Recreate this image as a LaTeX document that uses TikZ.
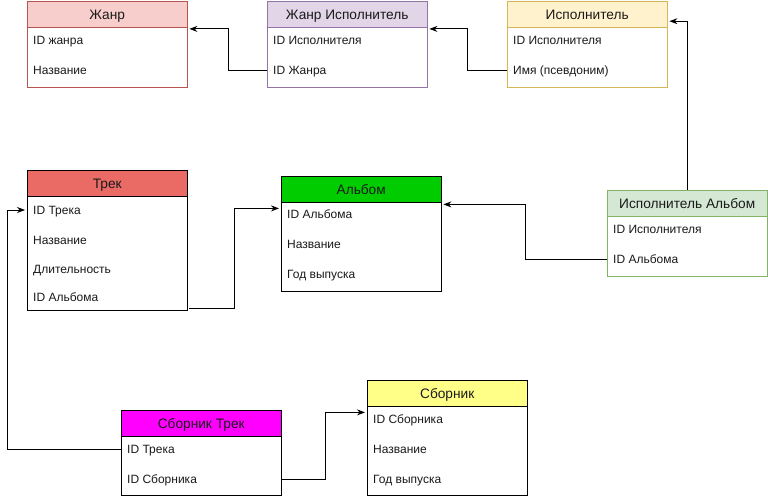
\documentclass[tikz,border=0pt]{standalone}
\usepackage{fontspec}
\setmainfont{Liberation Sans}
\usepackage{xcolor}
\usepackage{tikz}
\usetikzlibrary{arrows.meta, positioning, calc}
\definecolor{genrefill}{HTML}{F8CECC}
\definecolor{genreline}{HTML}{B85450}
\definecolor{linkfill}{HTML}{E1D5E7}
\definecolor{linkline}{HTML}{9673A6}
\definecolor{artistfill}{HTML}{FFF2CC}
\definecolor{artistline}{HTML}{D6B656}
\definecolor{artalbfill}{HTML}{D5E8D4}
\definecolor{artalbline}{HTML}{82B366}
\definecolor{trackfill}{HTML}{EA6B66}
\definecolor{albumfill}{HTML}{00CC00}
\definecolor{collfill}{HTML}{FFFF88}
\definecolor{colltrackfill}{HTML}{FF00FF}
\definecolor{textgray}{HTML}{1A1A1A}

\tikzset{
  head/.style={draw, minimum width=160pt, minimum height=26pt, anchor=north west,
    inner sep=0pt, text height=12pt, text depth=1pt,
    font=\fontsize{13.7}{15}\selectfont, text=textgray},
  body/.style={draw, fill=white, minimum width=160pt, anchor=north west, inner sep=0pt},
  field/.style={anchor=west, inner sep=0pt, text height=8.6pt, text depth=0pt,
    font=\fontsize{12}{14}\selectfont, text=textgray},
  link/.style={draw=black, line width=0.9pt, -{Stealth[length=8pt,width=6pt]}},
}

\begin{document}
\begin{tikzpicture}[x=1pt, y=-1pt]
    \useasboundingbox (0,0) rectangle (768,500);

    % Жанр
    \node[head, fill=genrefill, draw=genreline] (g-head) at (27,1) {Жанр};
    \node[body, draw=genreline, minimum height=60pt] (g-body) at (27,27) {};
    \node[field] (g-f1) at (33,40) {ID жанра};
    \node[field] (g-f2) at (33,70) {Название};

    % Жанр Исполнитель
    \node[head, fill=linkfill, draw=linkline] (gi-head) at (267,1) {Жанр Исполнитель};
    \node[body, draw=linkline, minimum height=60pt] (gi-body) at (267,27) {};
    \node[field] (gi-f1) at (273,40) {ID Исполнителя};
    \node[field] (gi-f2) at (273,70) {ID Жанра};

    % Исполнитель
    \node[head, fill=artistfill, draw=artistline] (i-head) at (507,1) {Исполнитель};
    \node[body, draw=artistline, minimum height=60pt] (i-body) at (507,27) {};
    \node[field] (i-f1) at (513,40) {ID Исполнителя};
    \node[field] (i-f2) at (513,70) {Имя (псевдоним)};

    % Трек
    \node[head, fill=trackfill] (t-head) at (27,170) {Трек};
    \node[body, minimum height=114pt] (t-body) at (27,196) {};
    \node[field] (t-f1) at (33,210) {ID Трека};
    \node[field] (t-f2) at (33,240) {Название};
    \node[field] (t-f3) at (33,269) {Длительность};
    \node[field] (t-f4) at (33,297) {ID Альбома};

    % Альбом
    \node[head, fill=albumfill] (a-head) at (281,176) {Альбом};
    \node[body, minimum height=89pt] (a-body) at (281,202) {};
    \node[field] (a-f1) at (287,214) {ID Альбома};
    \node[field] (a-f2) at (287,244) {Название};
    \node[field] (a-f3) at (287,274) {Год выпуска};

    % Исполнитель Альбом
    \node[head, fill=artalbfill, draw=artalbline] (ia-head) at (607,190) {Исполнитель Альбом};
    \node[body, draw=artalbline, minimum height=60pt] (ia-body) at (607,216) {};
    \node[field] (ia-f1) at (613,229) {ID Исполнителя};
    \node[field] (ia-f2) at (613,259) {ID Альбома};

    % Сборник
    \node[head, fill=collfill] (s-head) at (367,380) {Сборник};
    \node[body, minimum height=89pt] (s-body) at (367,406) {};
    \node[field] (s-f1) at (373,419) {ID Сборника};
    \node[field] (s-f2) at (373,449) {Название};
    \node[field] (s-f3) at (373,479) {Год выпуска};

    % Сборник Трек
    \node[head, fill=colltrackfill] (st-head) at (121,410) {Сборник Трек};
    \node[body, minimum height=59pt] (st-body) at (121,436) {};
    \node[field] (st-f1) at (127,449) {ID Трека};
    \node[field] (st-f2) at (127,479) {ID Сборника};

    % Связи
    \draw[link] (gi-body.west |- gi-f2) -- ++(-39,0) |- ($(g-head.south east)+(2pt,-1.5pt)$);
    \draw[link] (i-body.west |- i-f2) -- ++(-40,0) |- ($(gi-head.south east)+(2pt,-1.5pt)$);
    \draw[link] (ia-head.north) |- ($(i-head.east)+(2pt,-7pt)$);
    \draw[link] (ia-body.west |- ia-f2) -- ++(-82,0) |- ($(a-head.south east)+(2pt,-2pt)$);
    \draw[link] ($(t-body.south east)+(2pt,2pt)$) -- ++(45,0) |- ($(a-head.south west)+(-2pt,-6pt)$);
    \draw[link] (st-body.west |- st-f1) -- ++(-114,0) |- ($(t-f1.west)+(-8pt,0)$);
    \draw[link] (st-body.east |- st-f2) -- ++(44,0) |- ($(s-head.south west)+(-2pt,-6pt)$);
\end{tikzpicture}
\end{document}
